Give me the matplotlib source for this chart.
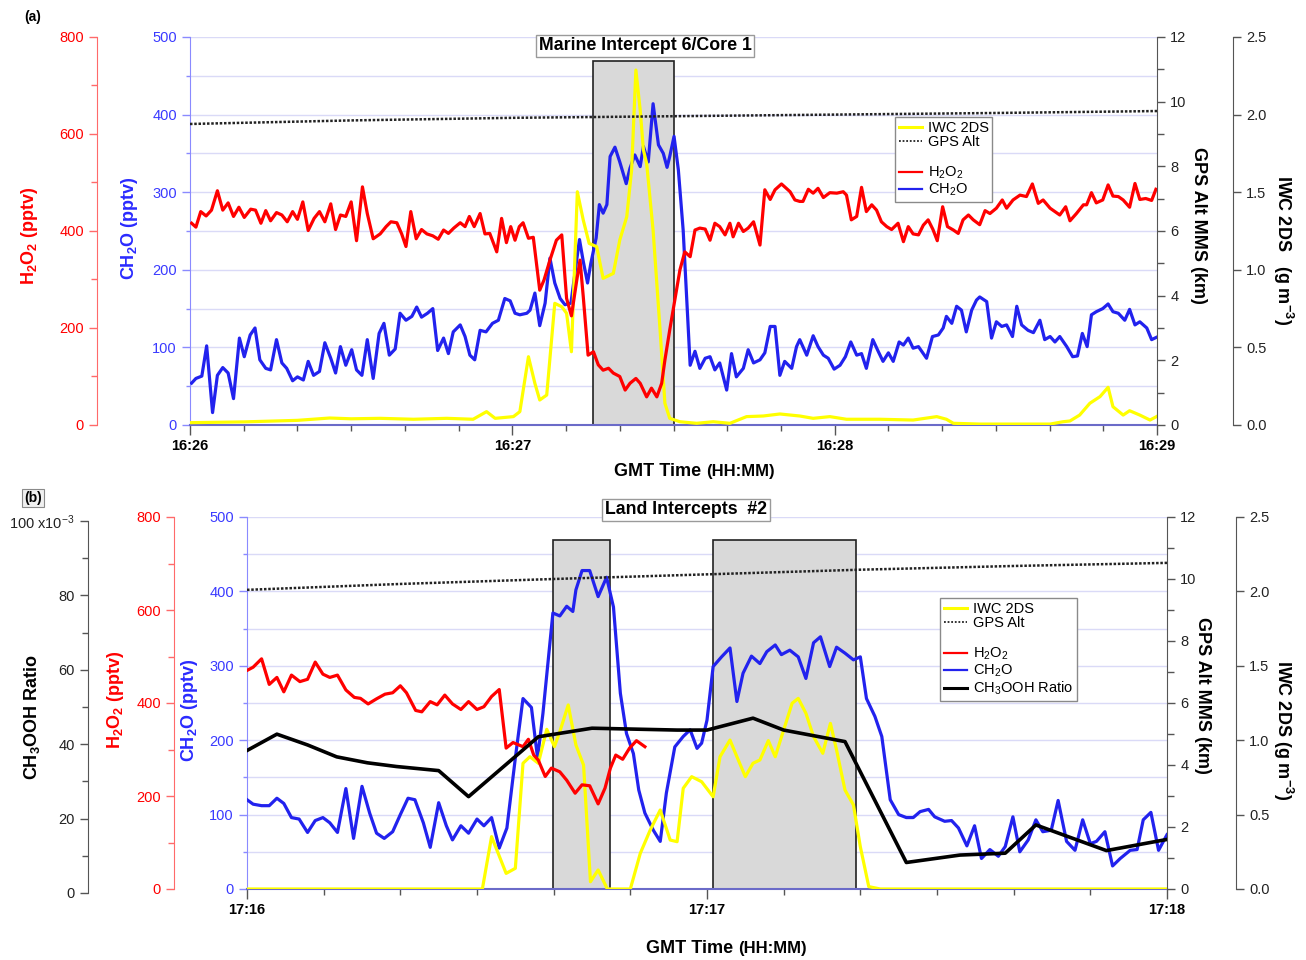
import numpy as np
import matplotlib
matplotlib.use("Agg")
import matplotlib.pyplot as plt
from matplotlib.ticker import MultipleLocator, FuncFormatter
from matplotlib.lines import Line2D

plt.rcParams['font.family'] = ['Liberation Sans', 'DejaVu Sans']
plt.rcParams['font.size'] = 10.5
plt.rcParams['mathtext.fontset'] = 'custom'
plt.rcParams['mathtext.rm'] = 'Liberation Sans'
plt.rcParams['mathtext.bf'] = 'Liberation Sans:bold'
plt.rcParams['mathtext.it'] = 'Liberation Sans:italic'

# === Panel (a) data: seconds after 16:26:00 ===
A_TICKLABELS = ['16:26', '16:27', '16:28', '16:29']
A_BOXES = [(75.0, 90.1)]
A_H2O2 = [(0.3, 416), (1.1, 408), (2.0, 440), (3.0, 431), (4.0, 443), (5.1, 483), (6.1, 443), (7.1, 458),
          (8.1, 430), (9.1, 449), (10.1, 428), (11.3, 445), (12.2, 443), (13.2, 416), (14.1, 442), (15.0, 421),
          (16.1, 438), (17.1, 433), (18.1, 419), (19.1, 440), (20.0, 424), (21.0, 460), (22.0, 401), (23.1, 426),
          (24.1, 440), (25.1, 419), (26.2, 456), (27.1, 403), (28.0, 433), (29.0, 430), (30.0, 460), (31.0, 380),
          (32.1, 491), (33.0, 436), (34.1, 384), (35.4, 394), (36.5, 409), (37.4, 419), (38.5, 417), (39.4, 394),
          (40.2, 368), (41.1, 440), (42.1, 384), (43.1, 403), (44.1, 394), (45.2, 390), (46.2, 383), (47.2, 402),
          (48.1, 395), (49.1, 406), (50.3, 417), (51.2, 409), (52.0, 430), (52.9, 409), (54.0, 436), (54.9, 394),
          (55.8, 395), (57.1, 357), (58.0, 426), (58.9, 376), (59.7, 409), (60.5, 381), (61.3, 409), (62.0, 417),
          (63.0, 385), (63.9, 387), (65.1, 278), (65.9, 299), (67.0, 340), (68.2, 381), (69.2, 392), (70.1, 261),
          (71.0, 225), (72.0, 299), (72.6, 340), (73.2, 265), (74.1, 144), (75.1, 151), (76.0, 124), (76.9, 113),
          (77.9, 117), (78.8, 107), (80.0, 100), (81.0, 72), (81.9, 86), (83.0, 96), (83.8, 86), (85.0, 58),
          (85.9, 76), (86.9, 58), (87.8, 86), (88.4, 134), (89.3, 196), (90.3, 261), (91.2, 320), (92.1, 357),
          (93.1, 347), (94.0, 402), (94.9, 406), (95.9, 404), (96.8, 381), (97.7, 416), (98.6, 409), (99.6, 392),
          (100.5, 416), (101.1, 388), (102.1, 416), (103.0, 399), (103.9, 406), (104.9, 419), (106.1, 371),
          (107.0, 485), (108.0, 465), (108.9, 485), (110.1, 497), (111.7, 481), (112.6, 464), (113.5, 461),
          (114.1, 461), (115.1, 486), (116.0, 478), (116.9, 488), (117.9, 469), (119.1, 479), (120.4, 478),
          (121.6, 481), (122.2, 474), (123.1, 423), (124.1, 430), (125.0, 490), (125.9, 440), (126.9, 454),
          (127.8, 443), (128.7, 419), (129.7, 409), (130.6, 403), (131.8, 416), (132.8, 378), (133.7, 409),
          (134.6, 394), (135.6, 392), (136.5, 412), (137.4, 423), (138.3, 403), (139.1, 380), (140.1, 450),
          (141.0, 409), (142.1, 402), (143.0, 395), (143.9, 423), (144.9, 433), (145.8, 423), (147.0, 413),
          (148.0, 442), (148.9, 436), (150.1, 447), (151.2, 464), (152.0, 447), (153.2, 464), (154.5, 474),
          (155.7, 471), (156.8, 497), (157.9, 457), (158.8, 464), (160.1, 447), (161.9, 433), (163.0, 450),
          (163.8, 421), (165.0, 436), (166.3, 454), (166.9, 454), (167.8, 479), (168.7, 458), (169.9, 464),
          (170.9, 495), (171.8, 472), (172.8, 471), (173.7, 464), (174.9, 449), (175.9, 498), (176.8, 465),
          (177.9, 467), (179.0, 463), (179.8, 486)]
A_CH2O = [(0.3, 54), (1.1, 60), (2.2, 63), (3.1, 102), (4.2, 16), (5.1, 64), (6.1, 74), (7.1, 67), (8.1, 34),
          (9.2, 112), (10.1, 88), (11.2, 116), (12.1, 125), (13.0, 84), (14.1, 73), (15.0, 71), (16.1, 110),
          (17.1, 80), (18.0, 73), (19.1, 57), (20.0, 62), (21.1, 58), (22.0, 82), (23.0, 64), (24.1, 69),
          (25.1, 106), (26.2, 86), (27.1, 67), (28.0, 101), (29.0, 77), (30.1, 97), (31.0, 71), (32.0, 64),
          (33.0, 110), (34.1, 60), (35.2, 118), (36.1, 131), (37.1, 90), (38.2, 98), (39.1, 144), (40.2, 135),
          (41.3, 140), (42.2, 152), (43.1, 139), (44.2, 144), (45.2, 150), (46.1, 96), (47.2, 112), (48.1, 92),
          (49.0, 120), (50.3, 129), (51.2, 114), (52.1, 90), (53.0, 84), (54.0, 122), (55.1, 120), (56.3, 131),
          (57.4, 135), (58.6, 163), (59.6, 160), (60.5, 144), (61.4, 142), (62.7, 144), (63.3, 148), (64.2, 170),
          (65.1, 128), (66.1, 157), (67.0, 215), (67.9, 183), (68.9, 163), (69.8, 155), (70.9, 157), (72.0, 213),
          (72.5, 239), (73.2, 211), (74.0, 183), (74.6, 208), (75.6, 241), (76.2, 284), (76.9, 273), (77.6, 284),
          (78.2, 346), (79.1, 358), (80.0, 339), (81.2, 311), (81.9, 331), (82.8, 348), (83.8, 333), (84.4, 359),
          (85.3, 339), (86.2, 414), (87.2, 361), (88.1, 350), (88.8, 332), (89.3, 346), (90.1, 372), (90.9, 329),
          (91.8, 251), (93.1, 77), (94.0, 95), (94.9, 73), (95.9, 86), (96.8, 88), (97.7, 71), (98.6, 80),
          (99.9, 45), (100.8, 92), (101.7, 62), (103.0, 73), (103.9, 97), (104.9, 80), (106.1, 84), (107.0, 93),
          (108.0, 127), (108.9, 127), (109.8, 64), (110.7, 82), (112.0, 73), (112.9, 101), (113.5, 110),
          (114.8, 90), (116.0, 115), (116.9, 101), (117.9, 90), (118.8, 86), (119.9, 72), (121.0, 77), (122.0, 88),
          (123.0, 107), (124.1, 90), (125.0, 92), (125.9, 73), (127.1, 110), (128.1, 95), (129.0, 82), (130.0, 93),
          (130.9, 82), (132.0, 107), (132.8, 103), (133.7, 112), (134.6, 99), (135.6, 101), (137.1, 86),
          (138.2, 114), (139.3, 116), (140.2, 125), (140.8, 140), (141.8, 131), (142.7, 153), (143.6, 148),
          (144.5, 120), (145.5, 148), (146.4, 161), (147.0, 165), (148.3, 159), (149.2, 112), (150.1, 133),
          (151.1, 127), (152.0, 129), (153.1, 114), (153.9, 153), (154.8, 129), (156.0, 122), (157.0, 119),
          (158.2, 135), (159.1, 110), (160.1, 114), (161.0, 107), (161.9, 114), (163.2, 101), (164.3, 88),
          (165.2, 89), (166.1, 118), (167.0, 101), (167.8, 142), (168.7, 146), (169.9, 150), (170.9, 156),
          (171.8, 146), (172.8, 144), (174.0, 135), (174.9, 149), (175.9, 129), (176.8, 133), (178.1, 125),
          (179.0, 110), (179.9, 113)]
A_IWC = [(0, 0.015), (10, 0.02), (20, 0.03), (26, 0.045), (30, 0.04), (35.4, 0.043), (41.6, 0.037), (47.8, 0.043),
         (52.7, 0.037), (55.2, 0.086), (56.8, 0.043), (60.2, 0.054), (61.4, 0.086), (63.0, 0.44), (64.2, 0.268),
         (65.1, 0.161), (66.4, 0.193), (67.9, 0.784), (69.2, 0.762), (70.1, 0.72), (71.0, 0.472), (72.1, 1.503),
         (73.2, 1.321), (74.3, 1.17), (75.7, 1.149), (76.9, 0.945), (78.8, 0.977), (80.0, 1.192), (81.3, 1.342),
         (82.2, 1.643), (83.0, 2.287), (83.8, 2.03), (84.4, 1.772), (85.0, 1.686), (86.2, 1.256), (87.5, 0.612),
         (88.4, 0.14), (89.3, 0.043), (91.2, 0.021), (94.3, 0.011), (97.4, 0.021), (100.5, 0.011), (103.6, 0.054),
         (106.7, 0.058), (109.8, 0.071), (113.5, 0.058), (116.0, 0.043), (119.1, 0.054), (122.2, 0.037),
         (128.4, 0.037), (134.6, 0.032), (139.0, 0.054), (140.8, 0.037), (142.1, 0.011), (147.0, 0.006),
         (153.9, 0.006), (160.1, 0.006), (162.5, 0.021), (163.8, 0.026), (165.6, 0.064), (167.5, 0.14),
         (169.4, 0.183), (170.9, 0.243), (171.8, 0.118), (173.7, 0.064), (174.9, 0.092), (176.8, 0.064),
         (178.7, 0.032), (179.9, 0.054)]
A_ALT = [(0, 9.31), (30, 9.42), (60, 9.5), (90, 9.55), (120, 9.6), (150, 9.65), (180, 9.71)]

# === Panel (b) data: seconds after 17:16:00 ===
B_TICKLABELS = ['17:16', '17:17', '17:18']
B_BOXES = [(39.9, 47.3), (60.8, 79.4)]
B_H2O2 = [(0, 470), (0.8, 477), (1.9, 495), (2.9, 440), (3.9, 455), (4.8, 424), (5.8, 460), (6.9, 446), (7.9, 451),
          (8.9, 488), (9.9, 462), (10.8, 455), (11.8, 460), (12.9, 428), (14.0, 412), (14.8, 410), (15.8, 398),
          (16.9, 409), (18.0, 419), (19.0, 422), (20.0, 437), (20.8, 422), (22.0, 384), (22.8, 381), (23.9, 403),
          (24.8, 396), (25.8, 417), (26.8, 398), (27.9, 386), (28.9, 403), (30.0, 386), (30.9, 392), (31.9, 414),
          (32.9, 429), (33.8, 303), (34.7, 315), (36.0, 306), (36.7, 322), (37.4, 288), (38.0, 277), (38.9, 242),
          (39.7, 260), (40.8, 252), (41.7, 234), (42.8, 206), (43.7, 224), (44.7, 222), (45.8, 183), (46.7, 217),
          (47.4, 260), (48.1, 288), (49.0, 279), (49.9, 303), (50.8, 319), (51.9, 306)]
B_CH2O = [(0, 120), (0.8, 114), (1.9, 112), (2.9, 112), (3.9, 122), (4.8, 115), (5.8, 96), (6.8, 94), (7.9, 76),
          (8.9, 92), (9.9, 96), (10.8, 89), (11.8, 76), (12.9, 135), (13.9, 68), (15.0, 138), (16.0, 102),
          (16.9, 75), (17.9, 68), (19.0, 77), (20.0, 100), (21.0, 122), (21.9, 120), (23.0, 89), (23.9, 56),
          (25.0, 116), (26.0, 85), (26.8, 66), (27.9, 85), (28.9, 75), (30.0, 94), (30.9, 85), (31.9, 96),
          (32.9, 55), (33.9, 82), (35.0, 176), (36.0, 256), (37.1, 244), (37.9, 176), (38.6, 236), (39.9, 371),
          (40.8, 367), (41.7, 380), (42.5, 373), (42.9, 402), (43.7, 428), (44.7, 428), (45.8, 393), (46.9, 419),
          (47.8, 379), (48.7, 263), (49.5, 209), (50.4, 182), (51.1, 133), (51.9, 102), (53.0, 79), (53.9, 64),
          (54.7, 129), (55.8, 191), (56.9, 205), (57.8, 214), (58.7, 189), (59.3, 196), (60.0, 227), (60.8, 299),
          (61.9, 312), (63.0, 324), (63.9, 252), (64.7, 290), (65.8, 313), (66.9, 303), (67.8, 319), (68.9, 328),
          (69.7, 315), (70.8, 321), (71.9, 312), (72.9, 283), (73.9, 331), (74.8, 339), (76.0, 299), (76.9, 325),
          (78.0, 317), (79.1, 308), (80.0, 312), (80.8, 256), (81.9, 232), (82.8, 205), (83.9, 120), (85.0, 100),
          (86.0, 96), (86.9, 96), (87.8, 104), (88.9, 107), (89.7, 97), (91.0, 91), (91.9, 92), (92.8, 82),
          (93.9, 58), (94.9, 85), (95.8, 41), (96.9, 53), (98.0, 44), (98.9, 57), (99.9, 97), (100.8, 50),
          (101.9, 66), (102.9, 93), (103.8, 77), (104.9, 79), (105.8, 119), (106.9, 64), (108.0, 52), (109.0, 93),
          (110.0, 61), (110.8, 64), (111.9, 77), (112.9, 31), (113.9, 41), (115.2, 52), (116.1, 53), (116.9, 93),
          (117.9, 103), (118.9, 52), (120.0, 73)]
B_IWC = [(0, 0), (30.7, 0), (31.9, 0.352), (33.8, 0.105), (35.0, 0.139), (36.0, 0.845), (36.9, 0.889), (38.0, 0.845),
         (39.1, 1.073), (40.1, 0.957), (40.8, 1.057), (41.9, 1.237), (42.9, 0.968), (43.9, 0.833), (44.8, 0.049),
         (45.8, 0.128), (47.0, 0), (50.0, 0), (51.3, 0.24), (52.6, 0.397), (53.9, 0.531), (55.2, 0.329),
         (56.1, 0.318), (56.9, 0.677), (58.0, 0.755), (59.3, 0.721), (60.8, 0.62), (61.7, 0.889), (63.0, 1.001),
         (63.9, 0.889), (65.0, 0.755), (66.0, 0.845), (66.9, 0.867), (68.0, 0.997), (68.9, 0.889), (70.0, 1.069),
         (71.1, 1.248), (71.9, 1.281), (72.9, 1.181), (73.9, 1.024), (75.1, 0.912), (76.1, 1.113), (76.9, 0.934),
         (78.0, 0.665), (79.1, 0.565), (80.0, 0.284), (81.1, 0.016), (82.6, 0), (120, 0)]
B_RATIO = [(0, 38.3), (3.9, 42.7), (7.9, 39.8), (11.7, 36.6), (15.7, 35.0), (19.5, 34.0), (25.0, 32.9),
           (28.9, 25.9), (38.0, 42.0), (45.0, 44.3), (56.1, 43.8), (60.0, 43.8), (66.0, 47.0), (70.0, 43.8),
           (78.0, 40.7), (86.0, 8.2), (93.0, 10.2), (98.9, 10.7), (102.9, 18.3), (112.1, 11.4), (120.0, 14.4)]
B_ALT = [(0, 9.65), (20, 9.84), (40, 10.0), (60, 10.15), (80, 10.3), (100, 10.42), (120, 10.52)]

# === Colours ===
RED = '#ff0000'
BLUE = '#2222ee'
YELLOW = '#ffff00'
CH2O_SPINE = '#8a8aff'
CH2O_TEXT = '#3a3aff'
RED_SPINE = '#ff6a6a'
GRID = '#dadaf7'
DARK = '#555555'

W, H = 1306, 960
fig = plt.figure(figsize=(W / 100, H / 100), dpi=100)


def add_axes_px(x0, y0, x1, y1):
    return fig.add_axes([x0 / W, 1 - y1 / H, (x1 - x0) / W, (y1 - y0) / H])


def series(pairs):
    t, v = zip(*pairs)
    return np.array(t), np.array(v)


def only_spine(ax, side):
    for name, sp in ax.spines.items():
        sp.set_visible(name == side)


def setup_host(ax, tmax, labels, boxes):
    ax.set_xlim(0, tmax)
    ax.set_ylim(0, 500)
    ax.set_xticks(np.arange(0, tmax + 1, 60), labels, fontweight='bold')
    ax.xaxis.set_minor_locator(MultipleLocator(10))
    ax.tick_params(axis='x', which='major', length=7, width=1, color=DARK, labelsize=10.5, pad=3)
    ax.tick_params(axis='x', which='minor', length=4, width=1, color=DARK)
    ax.yaxis.set_major_locator(MultipleLocator(100))
    ax.yaxis.set_minor_locator(MultipleLocator(50))
    ax.tick_params(axis='y', which='major', length=6, width=1, color=CH2O_SPINE, labelcolor=CH2O_TEXT,
                   labelsize=10.5)
    ax.tick_params(axis='y', which='minor', length=3, width=1, color=CH2O_SPINE)
    ax.spines['top'].set_visible(False)
    ax.spines['right'].set_visible(False)
    ax.spines['left'].set_color(CH2O_SPINE)
    ax.spines['bottom'].set_color('#6b6bc8')
    ax.spines['bottom'].set_linewidth(1.5)
    ax.yaxis.grid(True, which='both', color=GRID, lw=1)
    ax.set_axisbelow(True)
    for t0, t1 in boxes:
        ax.axvspan(t0, t1, ymin=0, ymax=0.938, facecolor='#d9d9d9', edgecolor='#222222', lw=1.2, zorder=0.8)


def left_twin(host, frac, top, major, minor, spine_color, text_color):
    ax = host.twinx()
    ax.set_ylim(0, top)
    only_spine(ax, 'left')
    ax.spines['left'].set_position(('axes', frac))
    ax.spines['left'].set_color(spine_color)
    ax.yaxis.set_ticks_position('left')
    ax.yaxis.set_major_locator(MultipleLocator(major))
    ax.yaxis.set_minor_locator(MultipleLocator(minor))
    ax.tick_params(axis='y', which='major', length=6, width=1, color=spine_color, labelcolor=text_color,
                   labelsize=10.5)
    ax.tick_params(axis='y', which='minor', length=4, width=1, color=spine_color)
    return ax


def right_twin(host, frac, top, major, minor, fmt):
    ax = host.twinx()
    ax.set_ylim(0, top)
    only_spine(ax, 'right')
    ax.spines['right'].set_position(('axes', frac))
    ax.spines['right'].set_color(DARK)
    ax.yaxis.set_major_locator(MultipleLocator(major))
    if minor:
        ax.yaxis.set_minor_locator(MultipleLocator(minor))
    ax.yaxis.set_major_formatter(FuncFormatter(lambda v, _: fmt % v))
    ax.tick_params(axis='y', which='major', length=6, width=1, color=DARK, labelcolor='#222222', labelsize=10.5)
    ax.tick_params(axis='y', which='minor', length=5, width=1, color=DARK)
    return ax


def vlabel(x, y, text, color='black', rot=90):
    fig.text(x / W, 1 - y / H, text, rotation=rot, color=color, fontsize=13, fontweight='bold',
             ha='center', va='center')


def xlabel(xc, y):
    fig.text(xc / W, 1 - y / H, 'GMT Time', fontsize=13, fontweight='bold', ha='right', va='baseline')
    fig.text((xc + 5) / W, 1 - y / H, '(HH:MM)', fontsize=12, fontweight='bold', ha='left', va='baseline')


def title_box(xc, y, text):
    fig.text(xc / W, 1 - y / H, text, fontsize=12.8, fontweight='bold', ha='center', va='center',
             bbox=dict(boxstyle='square,pad=0.15', fc='white', ec='#9a9a9a', lw=1))


def legend_at(ax, x, y, with_ratio):
    handles = [Line2D([], [], color=YELLOW, lw=2.2),
               Line2D([], [], color='#222222', lw=1.3, ls=(0, (1, 1))),
               Line2D([], [], color='none'),
               Line2D([], [], color=RED, lw=1.6),
               Line2D([], [], color=BLUE, lw=1.6)]
    labels = ['IWC 2DS', 'GPS Alt', ' ', 'H$_2$O$_2$', 'CH$_2$O']
    if with_ratio:
        handles.append(Line2D([], [], color='black', lw=2.2))
        labels.append('CH$_3$OOH Ratio')
    leg = ax.legend(handles, labels, loc='upper left', bbox_to_anchor=(x / W, 1 - y / H),
                    bbox_transform=fig.transFigure, fontsize=10.5, frameon=True, fancybox=False,
                    edgecolor='#8a8a8a', framealpha=1, borderpad=0.25, labelspacing=0.05,
                    handlelength=1.6, handletextpad=0.4, borderaxespad=0)
    leg.get_frame().set_linewidth(1)
    leg.set_zorder(10)


# === Panel (a) ===
axa = add_axes_px(190, 37, 1157, 425)
setup_host(axa, 180, A_TICKLABELS, A_BOXES)
axa_iwc = right_twin(axa, (1233 - 190) / 967, 2.5, 0.5, None, '%.1f')
axa_h = left_twin(axa, (97 - 190) / 967, 800, 200, 100, RED_SPINE, RED)
axa_alt = right_twin(axa, 1.0, 12, 2, 1, '%d')

t, v = series(A_CH2O)
axa.plot(t, v, color=BLUE, lw=2.3, zorder=3)
t, v = series(A_IWC)
axa_iwc.plot(t, v, color=YELLOW, lw=2.3)
t, v = series(A_H2O2)
axa_h.plot(t, v, color=RED, lw=2.3)
t, v = series(A_ALT)
axa_alt.plot(t, v, color='#222222', lw=1.8, ls=(0, (1, 0.7)))
legend_at(axa_alt, 895, 117, False)

fig.text(33 / W, 1 - 17 / H, '(a)', fontsize=10, fontweight='bold', ha='center', va='center')
title_box(645, 46, 'Marine Intercept 6/Core 1')
vlabel(30, 236, r'H$_\mathbf{2}$O$_\mathbf{2}$ (pptv)', RED)
vlabel(130, 228, r'CH$_\mathbf{2}$O (pptv)', '#2a2aff')
vlabel(1198, 225, 'GPS Alt MMS (km)', rot=270)
vlabel(1283, 250, r'IWC 2DS   (g m$^{\mathbf{-3}}$)', rot=270)
xlabel(701, 476)

# === Panel (b) ===
axb = add_axes_px(247, 517, 1167, 889)
setup_host(axb, 120, B_TICKLABELS, B_BOXES)
axb_iwc = right_twin(axb, (1236 - 247) / 920, 2.5, 0.5, None, '%.1f')
axb_h = left_twin(axb, (174 - 247) / 920, 800, 200, 100, RED_SPINE, RED)
axb_alt = right_twin(axb, 1.0, 12, 2, 1, '%d')

# CH3OOH ratio axis sits a few pixels lower than the others
axb_r = add_axes_px(247, 521, 1167, 893)
axb_r.set_xlim(0, 120)
axb_r.set_ylim(0, 100)
axb_r.patch.set_visible(False)
axb_r.xaxis.set_visible(False)
only_spine(axb_r, 'left')
axb_r.spines['left'].set_position(('axes', (88 - 247) / 920))
axb_r.spines['left'].set_color(DARK)
axb_r.yaxis.set_major_locator(MultipleLocator(20))
axb_r.yaxis.set_minor_locator(MultipleLocator(10))
axb_r.yaxis.set_major_formatter(FuncFormatter(
    lambda v, _: r'100 x10$^{\mathregular{-3}}$' if v >= 100 else '%d' % v))
axb_r.tick_params(axis='y', which='major', length=6, width=1, color=DARK, labelcolor='#222222', labelsize=10.5)
axb_r.tick_params(axis='y', which='minor', length=4, width=1, color=DARK)

t, v = series(B_CH2O)
axb.plot(t, v, color=BLUE, lw=2.3, zorder=3)
t, v = series(B_IWC)
axb_iwc.plot(t, v, color=YELLOW, lw=2.3)
t, v = series(B_H2O2)
axb_h.plot(t, v, color=RED, lw=2.3)
t, v = series(B_ALT)
axb_alt.plot(t, v, color='#222222', lw=1.8, ls=(0, (1, 0.7)))
t, v = series(B_RATIO)
axb_r.plot(t, v, color='black', lw=2.6)
legend_at(axb_r, 940, 598, True)

fig.text(33 / W, 1 - 498 / H, '(b)', fontsize=10, fontweight='bold', ha='center', va='center',
         bbox=dict(boxstyle='square,pad=0.15', fc='#f0f0f0', ec='#8a8a8a', lw=0.8))
title_box(686, 510, 'Land Intercepts  #2')
vlabel(32, 717, r'CH$_\mathbf{3}$OOH Ratio')
vlabel(115, 700, r'H$_\mathbf{2}$O$_\mathbf{2}$ (pptv)', RED)
vlabel(190, 710, r'CH$_\mathbf{2}$O (pptv)', '#2a2aff')
vlabel(1203, 695, 'GPS Alt MMS (km)', rot=270)
vlabel(1283, 730, r'IWC 2DS (g m$^{\mathbf{-3}}$)', rot=270)
xlabel(733, 953)

fig.savefig('out.png', dpi=100)
